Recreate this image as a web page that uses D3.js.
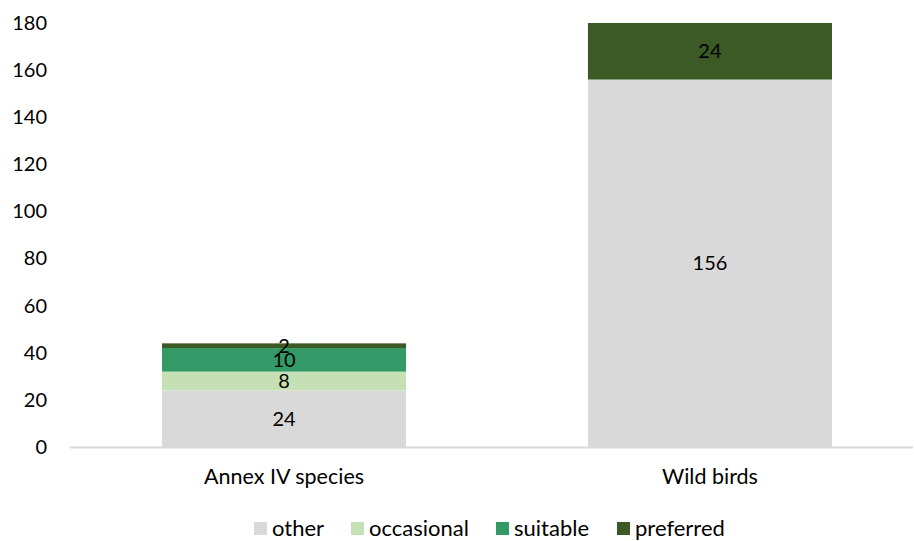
<!DOCTYPE html>
<html>
<head>
<meta charset="utf-8">
<script src="https://cdn.jsdelivr.net/npm/d3@7"></script>
<style>
  html, body { margin: 0; padding: 0; background: #ffffff; }
  svg { display: block; font-family: Lato, "Open Sans", sans-serif; }
</style>
</head>
<body>
<svg id="chart" width="914" height="541"></svg>
<script>
// Categories, series and values
const categories = ["Annex IV species", "Wild birds"];
const seriesNames = ["other", "occasional", "suitable", "preferred"];
const otherValues = [24, 156];
const occasionalValues = [8, 0];
const suitableValues = [10, 0];
const preferredValues = [2, 24];
const yTicks = [0, 20, 40, 60, 80, 100, 120, 140, 160, 180];
const seriesColors = ["#d9d9d9", "#c5e0b4", "#339966", "#3b5a26"];

const seriesValues = [otherValues, occasionalValues, suitableValues, preferredValues];
const rows = categories.map((c, i) => {
  const r = { category: c };
  seriesNames.forEach((s, j) => { r[s] = seriesValues[j][i]; });
  return r;
});

const svg = d3.select("#chart");
const plotLeft = 70, plotRight = 913, plotTop = 23, plotBottom = 447;

const x = d3.scaleBand()
  .domain(categories)
  .range([70, 924])
  .paddingInner(0.427)
  .paddingOuter(0.216);

const y = d3.scaleLinear().domain([0, 180]).range([plotBottom, plotTop]);

const stack = d3.stack().keys(seriesNames);
const layers = stack(rows);
const color = d3.scaleOrdinal().domain(seriesNames).range(seriesColors);

// Stacked bars
const layerG = svg.append("g").selectAll("g")
  .data(layers)
  .join("g")
  .attr("fill", d => color(d.key));

layerG.selectAll("rect")
  .data(d => d.filter(p => p[1] - p[0] > 0))
  .join("rect")
  .attr("x", d => x(d.data.category))
  .attr("width", x.bandwidth())
  .attr("y", d => y(d[1]))
  .attr("height", d => y(d[0]) - y(d[1]));

// Value labels in each segment
const labelG = svg.append("g");
layers.forEach(layer => {
  layer.forEach(p => {
    const v = p[1] - p[0];
    if (v <= 0) return;
    labelG.append("text")
      .attr("x", x(p.data.category) + x.bandwidth() / 2)
      .attr("y", y((p[0] + p[1]) / 2))
      .attr("dy", "0.36em")
      .attr("text-anchor", "middle")
      .attr("font-size", 20)
      .attr("fill", "#000")
      .text(v);
  });
});

// Baseline
svg.append("line")
  .attr("x1", plotLeft).attr("x2", plotRight)
  .attr("y1", y(0) + 0.5).attr("y2", y(0) + 0.5)
  .attr("stroke", "#d9d9d9").attr("stroke-width", 2);

// Y axis labels
const yAxis = d3.axisLeft(y).tickValues(yTicks).tickSize(0).tickPadding(0);
const yg = svg.append("g").attr("transform", "translate(47,0)").call(yAxis);
yg.select(".domain").remove();
yg.selectAll("text").attr("font-size", 20).attr("fill", "#000")
  .attr("font-family", "Lato, 'Open Sans', sans-serif");

// X axis labels
const xAxis = d3.axisBottom(x).tickSize(0).tickPadding(0);
const xg = svg.append("g").attr("transform", "translate(0,469)").call(xAxis);
xg.select(".domain").remove();
xg.selectAll("text").attr("font-size", 21.5).attr("fill", "#000")
  .attr("font-family", "Lato, 'Open Sans', sans-serif");

// Legend
const legendX = [254, 351, 496, 617];
const legend = svg.append("g");
seriesNames.forEach((s, i) => {
  legend.append("rect")
    .attr("x", legendX[i]).attr("y", 522)
    .attr("width", 13).attr("height", 13)
    .attr("fill", color(s));
  legend.append("text")
    .attr("x", legendX[i] + 18).attr("y", 528)
    .attr("dy", "0.36em")
    .attr("font-size", 22)
    .attr("fill", "#000")
    .text(s);
});
</script>
</body>
</html>
